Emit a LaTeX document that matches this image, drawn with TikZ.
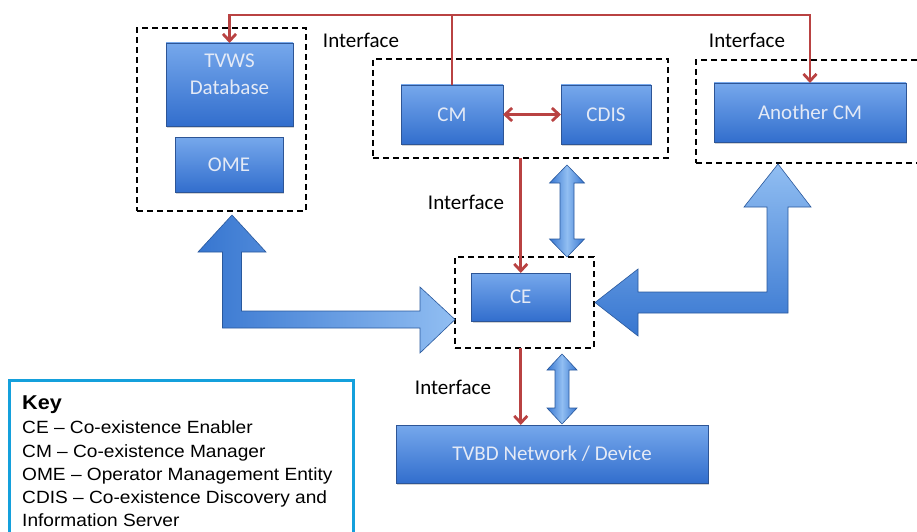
\documentclass[tikz,border=0pt]{standalone}
\usepackage{fontspec}
\setmainfont{Carlito}
\newfontfamily\keyfont[FakeStretch=1.08]{Liberation Sans}
\usetikzlibrary{arrows.meta,shadows}

\definecolor{ifred}{RGB}{185,66,66}
\definecolor{boxtop}{RGB}{118,168,236}
\definecolor{boxbot}{RGB}{50,110,205}
\definecolor{boxedge}{RGB}{45,85,150}
\definecolor{boxtext}{RGB}{228,234,246}
\definecolor{arrowlight}{RGB}{145,190,242}
\definecolor{arrowdark}{RGB}{55,118,208}
\definecolor{keyblue}{RGB}{20,160,220}

\tikzset{
  blk/.style={draw=boxedge, line width=0.8pt, top color=boxtop, bottom color=boxbot,
    inner sep=0pt, outer sep=0pt, text=boxtext, align=center,
    font=\fontsize{21}{26}\selectfont,
    drop shadow={shadow xshift=1pt, shadow yshift=-2pt, opacity=0.35}},
  group/.style={draw, line width=1.4pt, dash pattern=on 6pt off 4pt, inner sep=0pt, outer sep=0pt},
  iface/.style={draw=ifred, line width=2.8pt, -{Straight Barb[length=7pt,width=13pt]}},
  ifacelabel/.style={font=\fontsize{21}{26}\selectfont, inner sep=0pt},
  fat/.style={draw=arrowdark!75!black, line width=0.6pt},
  keytext/.style={font=\keyfont\fontsize{17.7}{23}\selectfont, anchor=base west, inner sep=0pt}
}

\begin{document}
\begin{tikzpicture}[x=1pt, y=-1pt]
    \useasboundingbox (0,0) rectangle (917,532);

    % dashed groups
    \node[group, minimum width=169, minimum height=183] (dbgroup) at (221.5,119.5) {};
    \node[group, minimum width=295, minimum height=99] (cmgroup) at (520.5,108.5) {};
    \node[group, minimum width=229, minimum height=103] (othergroup) at (810.5,111.5) {};
    \node[group, minimum width=139, minimum height=91] (cegroup) at (524.5,302.5) {};

    % blocks
    \node[blk, minimum width=127, minimum height=83] (tvws) at (229.5,84.5) {};
    \node[ifacelabel, text=boxtext, align=center, font=\fontsize{21}{27}\selectfont] (tvwstext) at (229.5,74) {TVWS\\Database};
    \node[blk, minimum width=108, minimum height=55] (ome) at (229,164.5) {OME};
    \node[blk, minimum width=102, minimum height=59] (cm) at (452,114.5) {CM};
    \node[blk, minimum width=90, minimum height=59] (cdis) at (606,114.5) {CDIS};
    \node[blk, minimum width=192, minimum height=59] (othercm) at (810,112.5) {Another CM};
    \node[blk, minimum width=98.5, minimum height=48] (ce) at (520.75,297) {CE};
    \node[blk, minimum width=312, minimum height=58] (tvbd) at (552,454) {TVBD Network / Device};

    % interfaces
    \coordinate (bus) at (cm.north |- 0,15);
    \draw[iface] (cm.north) -- (bus) -| (tvws.north);
    \draw[iface] (bus) -| (othercm.north);
    \draw[iface, {Straight Barb[length=7pt,width=13pt]}-{Straight Barb[length=7pt,width=13pt]}] (cm.east) -- (cdis.west);
    \draw[iface] (ce.north |- cmgroup.south) -- (ce.north);
    \draw[iface] (ce.south |- cegroup.south) -- (ce.south |- tvbd.north);

    \node[ifacelabel] (iftop) at (361,40) {Interface};
    \node[ifacelabel] (ifright) at (747,40) {Interface};
    \node[ifacelabel] (ifmid) at (466,202) {Interface};
    \node[ifacelabel] (iflow) at (453,387) {Interface};

    % fat arrows
    \draw[fat, left color=arrowdark, right color=arrowlight]
        (232,215) -- (266,252) -- (241.5,252) -- (241.5,311) -- (420,311) -- (420,287) -- (455,319.5)
        -- (420,353) -- (420,328) -- (222.5,328) -- (222.5,252) -- (198,252) -- cycle;
    \draw[fat, top color=arrowlight, bottom color=arrowdark]
        (778,164) -- (811,207) -- (788,207) -- (788,313) -- (638,313) -- (638,336) -- (595,302.5)
        -- (638,269) -- (638,292) -- (767,292) -- (767,207) -- (744,207) -- cycle;
    \draw[fat, left color=arrowdark, right color=arrowdark, middle color=arrowlight]
        (567,165) -- (584.5,183) -- (574,183) -- (574,239) -- (584.5,239) -- (567,257)
        -- (549.5,239) -- (560,239) -- (560,183) -- (549.5,183) -- cycle;
    \draw[fat, left color=arrowdark, right color=arrowdark, middle color=arrowlight]
        (562,354) -- (577,370) -- (569,370) -- (569,408) -- (577,408) -- (562,424)
        -- (547,408) -- (555,408) -- (555,370) -- (547,370) -- cycle;

    % key
    \node[draw=keyblue, line width=3pt, minimum width=344, minimum height=165, inner sep=0pt] (keybox) at (181,462.5) {};
    \node[keytext, font=\keyfont\bfseries\fontsize{20}{24}\selectfont] (keyhead) at (22,409.5) {Key};
    \node[keytext] (keyce) at (22,433.5) {CE – Co-existence Enabler};
    \node[keytext] (keycm) at (22,457) {CM – Co-existence Manager};
    \node[keytext] (keyome) at (22,480.5) {OME – Operator Management Entity};
    \node[keytext] (keycdis) at (22,503.5) {CDIS – Co-existence Discovery and};
    \node[keytext] (keyinfo) at (22,526.5) {Information Server};
\end{tikzpicture}
\end{document}
